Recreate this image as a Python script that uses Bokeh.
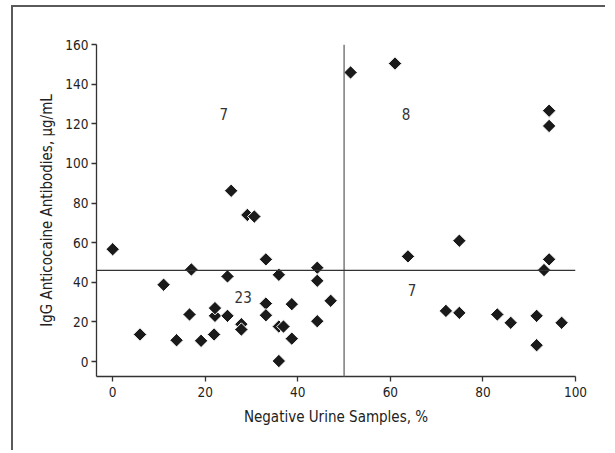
import numpy as np
from bokeh.plotting import figure
from bokeh.models import Span, Range1d, FixedTicker, ColumnDataSource
from bokeh.core.properties import value
from bokeh.embed import file_html
from bokeh.resources import INLINE

# Data
neg_urine_pct = [0, 5.9, 11.0, 13.8, 17.0, 16.6, 19.1, 21.9, 22.1, 22.1, 24.8, 24.8, 25.6,
                 29.1, 30.6, 27.8, 27.8, 33.1, 33.1, 33.1, 35.9, 35.9, 36.9, 35.9, 38.7,
                 38.7, 44.2, 44.2, 44.2, 47.1,
                 51.4, 61.0, 63.8, 74.9, 72.0, 74.9, 83.1, 86.0, 91.6, 91.6, 94.3, 94.3,
                 94.3, 93.2, 97.0]
igg_ug_ml = [56.7, 13.7, 38.8, 10.8, 46.5, 23.8, 10.5, 13.7, 23.1, 27.0, 43.0, 23.1, 86.2,
             74.0, 73.2, 18.9, 16.2, 51.6, 29.3, 23.4, 43.8, 17.7, 17.7, 0.3, 29.0,
             11.6, 47.4, 40.8, 20.4, 30.7,
             145.9, 150.4, 53.1, 61.0, 25.6, 24.6, 23.8, 19.6, 23.1, 8.3, 126.6, 118.9,
             51.6, 46.2, 19.6]

x_cut = [50]
y_cut = [46]

quad_counts = ["7", "8", "23", "7"]
quad_x = [24.0, 63.4, 28.2, 64.7]
quad_y = [125, 125, 32.4, 36.3]

x_ticks = [0, 20, 40, 60, 80, 100]
y_ticks = [0, 20, 40, 60, 80, 100, 120, 140, 160]

FONT = "DejaVu Sans Condensed"

p = figure(width=594, height=445, output_backend="svg", toolbar_location=None,
           x_range=Range1d(-3.5, 100), y_range=Range1d(-7.5, 160),
           min_border_left=83, min_border_right=32, min_border_top=37, min_border_bottom=76,
           styles={"margin-left": "11px", "margin-top": "5px",
                   "border-left": "2px solid #5a5a5a", "border-top": "2px solid #5a5a5a"})

p.outline_line_color = None
p.xgrid.visible = False
p.ygrid.visible = False

for ax in (p.xaxis[0], p.yaxis[0]):
    ax.axis_line_color = "#333333"
    ax.axis_line_width = 1.3
    ax.major_tick_line_color = "#333333"
    ax.major_tick_line_width = 1.3
    ax.major_tick_out = 5
    ax.major_tick_in = 0
    ax.minor_tick_line_color = None
    ax.major_label_text_font = FONT
    ax.major_label_text_font_size = "13.5px"
    ax.major_label_text_color = "#222222"
    ax.axis_label_text_font = FONT
    ax.axis_label_text_font_size = "15px"
    ax.axis_label_text_font_style = "normal"
    ax.axis_label_text_color = "#222222"

p.xaxis.ticker = FixedTicker(ticks=x_ticks)
p.yaxis.ticker = FixedTicker(ticks=y_ticks)
p.xaxis.axis_label = "Negative Urine Samples, %"
p.yaxis.axis_label = "IgG Anticocaine Antibodies, μg/mL"
p.xaxis.major_label_standoff = 5
p.xaxis.axis_label_standoff = 8
p.yaxis.major_label_standoff = 3
p.yaxis.axis_label_standoff = 6

p.add_layout(Span(location=x_cut[0], dimension="height", line_color="#7a7a7a", line_width=1.5))
p.add_layout(Span(location=y_cut[0], dimension="width", line_color="#333333", line_width=1.2))

src = ColumnDataSource(dict(x=neg_urine_pct, y=igg_ug_ml))
p.scatter("x", "y", source=src, marker="square", size=9.5, angle=np.pi / 4,
          fill_color="#1a1a1a", line_color="white", line_width=1)

tsrc = ColumnDataSource(dict(x=quad_x, y=quad_y, t=quad_counts))
p.text("x", "y", text="t", source=tsrc, text_font=value(FONT), text_font_size="15px",
       text_color="#333333", text_align="center", text_baseline="middle")

open("out.html", "w").write(file_html(p, INLINE))
